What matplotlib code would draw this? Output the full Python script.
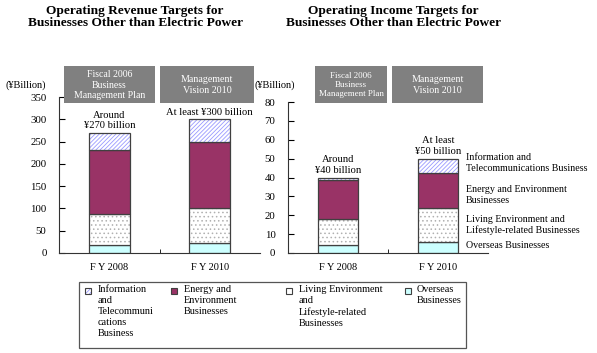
import matplotlib
matplotlib.use("Agg")
import matplotlib.pyplot as plt
from matplotlib.patches import Rectangle
import numpy as np

plt.rcParams['font.family'] = ['Liberation Serif', 'DejaVu Serif']
plt.rcParams['hatch.linewidth'] = 0.6

# data
years = ['F Y 2008', 'F Y 2010']
rev_overseas = [18, 22]
rev_living = [70, 78]
rev_energy = [142, 150]
rev_info = [40, 50]
inc_overseas = [4, 6]
inc_living = [14, 18]
inc_energy = [20.5, 18.5]
inc_info = [1.5, 7.5]
plan_headers = ['Fiscal 2006\nBusiness\nManagement Plan', 'Management\nVision 2010']
rev_notes = ['Around\n¥270 billion', 'At least ¥300 billion']
inc_notes = ['Around\n¥40 billion', 'At least\n¥50 billion']
side_labels = ['Overseas Businesses', 'Living Environment and\nLifestyle-related Businesses',
               'Energy and Environment\nBusinesses', 'Information and\nTelecommunications Business']
legend_labels = ['Information\nand\nTelecommuni\ncations\nBusiness',
                 'Energy and\nEnvironment\nBusinesses',
                 'Living Environment\nand\nLifestyle-related\nBusinesses',
                 'Overseas\nBusinesses']

W, H = 597, 353
fig = plt.figure(figsize=(W / 100, H / 100), dpi=100)


def fx(px):
    return px / W


def fy(py):
    return 1 - py / H


# styles: (face, hatch, hatch colour)
styles = {
    'over': ('#ccffff', None, '#ccffff'),
    'living': ('white', '....', '#b0b0b0'),
    'energy': ('#993366', None, '#993366'),
    'info': ('white', '////////', '#9999ff'),
}
edge = '#404040'


def stack(ax, series, width):
    x = np.arange(len(years))
    bottom = np.zeros(len(years))
    for vals, key in series:
        face, hatch, hc = styles[key]
        ax.bar(x, vals, width, bottom=bottom, color=face, hatch=hatch,
               edgecolor=hc, linewidth=0)
        ax.bar(x, vals, width, bottom=bottom, fill=False, edgecolor=edge, linewidth=0.9)
        bottom = bottom + np.array(vals)
    return bottom


def setup(ax, top, step):
    ax.set_xlim(-0.5, 1.5)
    ax.set_ylim(0, top)
    ax.set_yticks(np.arange(0, top + 1, step))
    ax.set_xticks([0, 1])
    ax.set_xticklabels(years)
    ax.tick_params(axis='x', length=0, labelsize=7.5, pad=7)
    ax.tick_params(axis='y', direction='in', length=4, labelsize=7.8, pad=9)
    ax.set_xticks([0.5], minor=True)
    ax.tick_params(axis='x', which='minor', direction='in', length=3)
    for s in ['top', 'right']:
        ax.spines[s].set_visible(False)
    for s in ['left', 'bottom']:
        ax.spines[s].set_color('#333333')
        ax.spines[s].set_linewidth(0.8)


# left chart
ax1 = fig.add_axes([fx(59), fy(253), fx(201), (253 - 97) / H])
tot1 = stack(ax1, [(rev_overseas, 'over'), (rev_living, 'living'),
                   (rev_energy, 'energy'), (rev_info, 'info')], 0.41)
setup(ax1, 350, 50)
ax1.text(0, tot1[0] + 6, rev_notes[0], ha='center', va='bottom', fontsize=7.6, linespacing=1.2)
ax1.text(1, tot1[1] + 6, rev_notes[1], ha='center', va='bottom', fontsize=7.6)

# right chart
ax2 = fig.add_axes([fx(288), fy(253), fx(200), (253 - 102) / H])
tot2 = stack(ax2, [(inc_overseas, 'over'), (inc_living, 'living'),
                   (inc_energy, 'energy'), (inc_info, 'info')], 0.40)
setup(ax2, 80, 10)
ax2.text(0, tot2[0] + 1.5, inc_notes[0], ha='center', va='bottom', fontsize=7.6, linespacing=1.2)
ax2.text(1, tot2[1] + 1.5, inc_notes[1], ha='center', va='bottom', fontsize=7.6, linespacing=1.2)

# labels right of the income bars
label_y = [245, 225, 195, 163]
for lab, py in zip(side_labels, label_y):
    fig.text(fx(466), fy(py), lab, ha='left', va='center', fontsize=7.2, linespacing=1.25)

# titles
fig.text(fx(135), fy(17), 'Operating Revenue Targets for\nBusinesses Other than Electric Power',
         ha='center', va='center', fontsize=9.6, fontweight='bold', linespacing=1.1)
fig.text(fx(393), fy(17), 'Operating Income Targets for\nBusinesses Other than Electric Power',
         ha='center', va='center', fontsize=9.6, fontweight='bold', linespacing=1.1)

# units
fig.text(fx(26), fy(85), '(¥Billion)', ha='center', va='center', fontsize=7.5)
fig.text(fx(275), fy(85), '(¥Billion)', ha='center', va='center', fontsize=7.5)

# grey plan headers
boxes = [(64, 155), (160, 254), (315, 387), (392, 483)]
box_fs = [7.0, 7.2, 6.5, 7.2]
for i, (x0, x1) in enumerate(boxes):
    fig.patches.append(Rectangle((fx(x0), fy(103)), fx(x1 - x0), (103 - 66) / H,
                                 transform=fig.transFigure, facecolor='#808080',
                                 edgecolor='none', zorder=0))
    fig.text(fx((x0 + x1) / 2), fy(85), plan_headers[i % 2], ha='center', va='center',
             fontsize=box_fs[i], color='white', linespacing=1.25)

# legend box
fig.patches.append(Rectangle((fx(79), fy(348)), fx(466 - 79), (348 - 282) / H,
                             transform=fig.transFigure, facecolor='white',
                             edgecolor='#555555', linewidth=0.9))
leg_keys = ['info', 'energy', 'living', 'over']
mark_x = [88, 174, 289, 408]
text_x = [98, 184, 299, 417]
for key, mx, tx, lab in zip(leg_keys, mark_x, text_x, legend_labels):
    face, hatch, hc = styles[key]
    fig.patches.append(Rectangle((fx(mx - 3), fy(294)), fx(6), 6 / H,
                                 transform=fig.transFigure, facecolor=face,
                                 hatch=None if key == 'living' else hatch,
                                 edgecolor=hc, linewidth=0))
    fig.patches.append(Rectangle((fx(mx - 3), fy(294)), fx(6), 6 / H,
                                 transform=fig.transFigure, fill=False,
                                 edgecolor=edge, linewidth=0.8))
    fig.text(fx(tx), fy(285), lab, ha='left', va='top', fontsize=7.4, linespacing=1.3)

fig.savefig('out.png', dpi=100)
